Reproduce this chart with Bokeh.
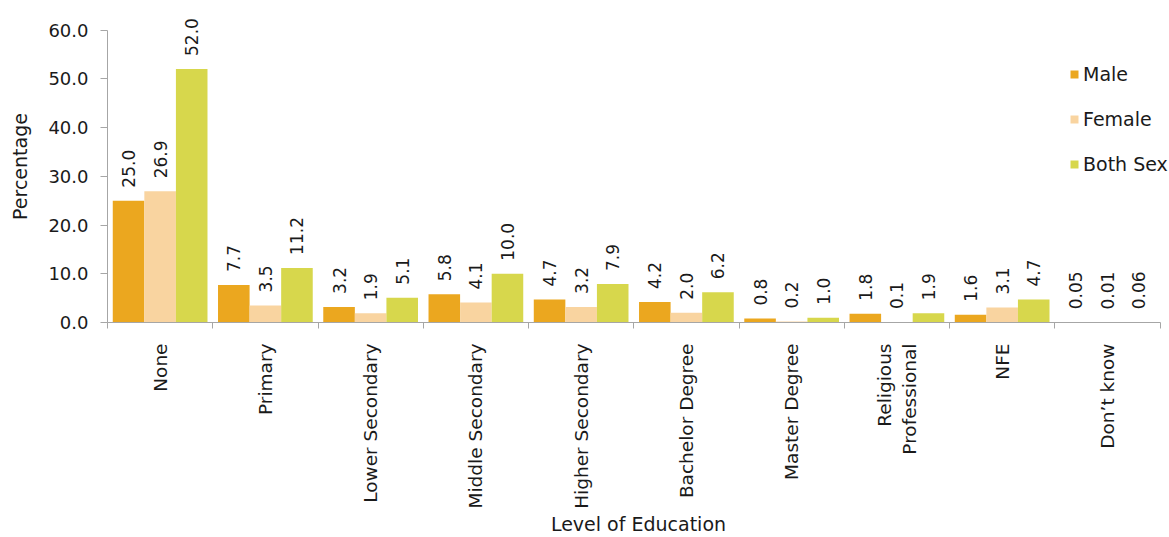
import math
from bokeh.plotting import figure
from bokeh.models import (ColumnDataSource, Range1d, FixedTicker, NumeralTickFormatter,
                          Legend, LegendItem)
from bokeh.transform import dodge
from bokeh.core.properties import value
from bokeh.embed import file_html
from bokeh.resources import INLINE

categories = ["None", "Primary", "Lower Secondary", "Middle Secondary", "Higher Secondary",
              "Bachelor Degree", "Master Degree", "Religious\nProfessional", "NFE", "Don\u2019t know"]
male = [25.0, 7.7, 3.2, 5.8, 4.7, 4.2, 0.8, 1.8, 1.6, 0.05]
female = [26.9, 3.5, 1.9, 4.1, 3.2, 2.0, 0.2, 0.1, 3.1, 0.01]
both = [52.0, 11.2, 5.1, 10.0, 7.9, 6.2, 1.0, 1.9, 4.7, 0.06]
series_names = ["Male", "Female", "Both Sex"]
y_ticks = [0, 10, 20, 30, 40, 50, 60]

colors = ["#EBA71F", "#F9D4A0", "#D7D74C"]
FONT = "DejaVu Sans"
TXT = "#1a1a1a"
AXC = "#A6A6A6"


def fmt(v):
    return f"{v:.1f}" if round(v, 1) == v else f"{v:.2f}"


xc = [i + 0.5 for i in range(len(categories))]
src = ColumnDataSource(dict(
    xc=xc, male=male, female=female, both=both,
    male_l=[fmt(v) for v in male], female_l=[fmt(v) for v in female], both_l=[fmt(v) for v in both],
))

p = figure(width=1169, height=537, x_range=Range1d(0, 10.09), y_range=Range1d(0, 64),
           output_backend="svg", toolbar_location=None,
           min_border_left=107, min_border_right=0, min_border_top=10, min_border_bottom=215)
p.outline_line_color = None
p.xgrid.visible = False
p.ygrid.visible = False
p.background_fill_color = "white"

offsets = [-0.3, 0.0, 0.3]
cols = ["male", "female", "both"]
renderers = []
for col, off, c in zip(cols, offsets, colors):
    r = p.vbar(x=dodge("xc", off, range=p.x_range), top=col, width=0.3, source=src,
               fill_color=c, line_color=None)
    renderers.append(r)
    p.text(x=dodge("xc", off, range=p.x_range), y=col, text=col + "_l", source=src,
           angle=math.pi / 2, text_align="left", text_baseline="middle", y_offset=-13,
           text_font=value(FONT), text_font_size="17px", text_color=TXT)

# x axis
xa = p.xaxis[0]
xa.bounds = (0, 10)
xa.ticker = FixedTicker(ticks=xc, minor_ticks=list(range(len(categories) + 1)))
xa.major_label_overrides = {x: c for x, c in zip(xc, categories)}
xa.major_tick_out = 0
xa.major_tick_in = 0
xa.minor_tick_out = 6
xa.minor_tick_in = 0
xa.minor_tick_line_color = AXC
xa.axis_line_color = AXC
xa.major_label_orientation = math.pi / 2
xa.major_label_standoff = 15
xa.major_label_text_font = FONT
xa.major_label_text_font_size = "18.5px"
xa.major_label_text_color = TXT
xa.axis_label = "Level of Education"
xa.axis_label_text_font = FONT
xa.axis_label_text_font_size = "19px"
xa.axis_label_text_font_style = "normal"
xa.axis_label_text_color = TXT
xa.axis_label_standoff = 1

# y axis
ya = p.yaxis[0]
ya.ticker = FixedTicker(ticks=y_ticks)
ya.bounds = (0, 60)
ya.formatter = NumeralTickFormatter(format="0.0")
ya.major_tick_out = 7
ya.major_tick_in = 0
ya.minor_tick_out = 0
ya.minor_tick_in = 0
ya.major_tick_line_color = AXC
ya.axis_line_color = AXC
ya.major_label_standoff = 12
ya.major_label_text_font = FONT
ya.major_label_text_font_size = "18px"
ya.major_label_text_color = TXT
ya.axis_label = "Percentage"
ya.axis_label_text_font = FONT
ya.axis_label_text_font_size = "19px"
ya.axis_label_text_font_style = "normal"
ya.axis_label_text_color = TXT
ya.axis_label_standoff = 14

legend = Legend(items=[LegendItem(label=n, renderers=[r]) for n, r in zip(series_names, renderers)],
                location=(962, 147), glyph_width=10, glyph_height=10, label_standoff=4,
                padding=0, margin=0, spacing=23, label_height=22,
                label_text_font=FONT, label_text_font_size="19px", label_text_color=TXT,
                border_line_color=None, background_fill_alpha=0)
p.add_layout(legend)

open("out.html", "w").write(file_html(p, INLINE))
